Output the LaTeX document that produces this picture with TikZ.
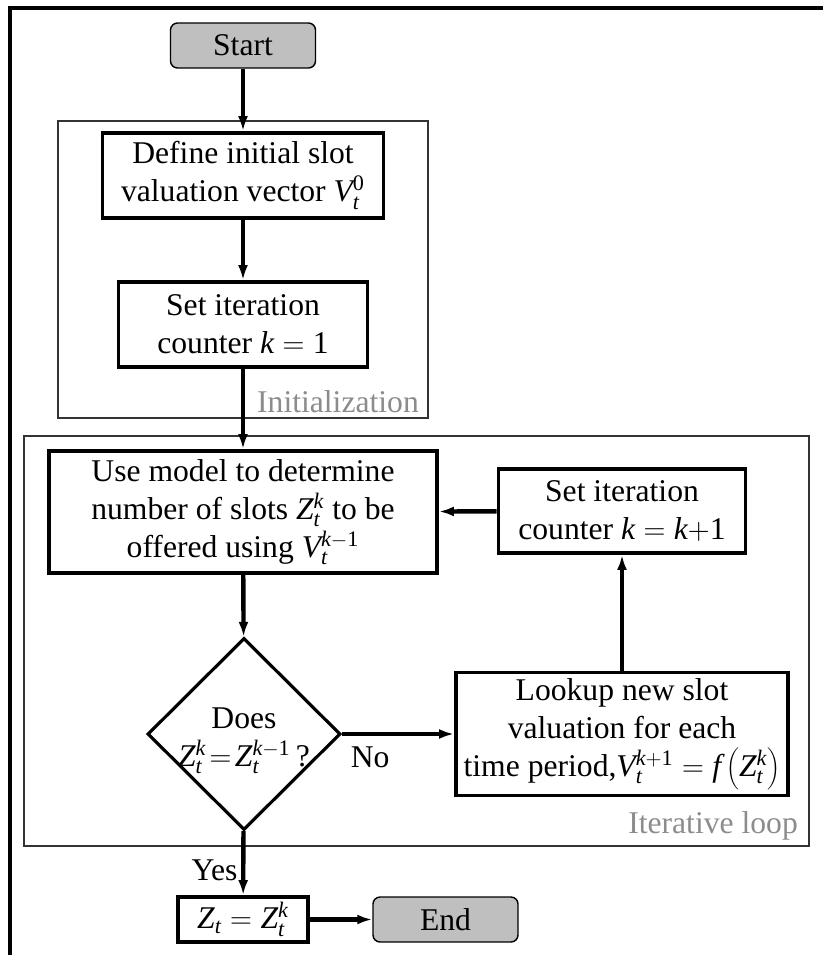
\documentclass[tikz,border=0pt]{standalone}
\usepackage{mathspec}
\setmainfont{Liberation Serif}
\setmathsfont(Digits,Latin){Liberation Serif}
\usetikzlibrary{shapes.geometric,arrows.meta}

\begin{document}
\begin{tikzpicture}[font=\fontsize{18}{21.6}\selectfont]
\tikzset{terminal style/.style={shape=rectangle,rounded corners=4pt,draw=black,fill=black!25,line width=0.8pt,minimum width=2.9cm,minimum height=0.9cm,inner sep=0pt},
         process style/.style={shape=rectangle,draw=black,line width=2.2pt,align=center,inner sep=2pt},
         decision style/.style={shape=diamond,draw=black,line width=1.8pt,minimum width=3.86cm,minimum height=3.84cm,inner sep=0pt},
         frame style/.style={draw=black!80,line width=0.7pt},
         note style/.style={text=black!45},
         flow style/.style={line width=2.5pt,-{Latex[length=0.3cm,width=0.2cm]}}}

\useasboundingbox (0, 0) rectangle (16.44, -19.1);
\draw[line width=2pt] (0.2, -19.1) -- (0.2, -0.16) -- (16.6, -0.16);

% frames
\draw[frame style] (1.16, -2.42) rectangle (8.56, -8.36);
\draw[frame style] (0.48, -8.72) rectangle (16.18, -16.92);
\node[note style, anchor=base east] at (8.5, -8.24)     (init)  {Initialization};
\node[note style, anchor=base east] at (16.08, -16.66)  (loop)  {Iterative loop};

\node[terminal style] at (4.86, -0.91)    (1)     {Start};
\node[process style, minimum width=5.62cm, minimum height=1.7cm] at (4.86, -3.51)   (2)
      {Define initial slot\\ valuation vector $V_t^0$};
\node[process style, minimum width=4.98cm, minimum height=1.7cm] at (4.86, -6.49)   (3)
      {Set iteration\\ counter $k=1$};
\node[process style, minimum width=7.76cm, minimum height=2.44cm] at (4.86, -10.24) (4)
      {Use model to determine\\ number of slots $Z_t^k$ to be\\ offered using $V_t^{k-1}$};
\node[decision style, label={[align=center, yshift=-0.14cm]center:{Does\\ $Z_t^k\mkern2mu{=}\mkern2mu Z_t^{k-1}$\,?}}] at (4.88, -14.68) (5) {};
\node[process style, minimum width=6.64cm, minimum height=2.46cm] at (12.44, -14.68) (6)
      {Lookup new slot\\ valuation for each\\ time period,$V_t^{k+1}=f\left(Z_t^k\right)$};
\node[process style, minimum width=4.94cm, minimum height=1.68cm] at (12.44, -10.22) (7)
      {Set iteration\\ counter $k=k{+}1$};
\node[process style, minimum width=2.6cm, minimum height=0.9cm, inner sep=0pt] at (4.86, -18.39) (8)
      {$Z_t=Z_t^k$};
\node[terminal style] at (8.91, -18.39)   (9)     {End};

\draw[flow style]
            (1)     edge    (2)
            (2)     edge    (3)
            (3)     edge    (4)
            (4)     edge    (5)
            (5)     edge    node[pos=0.25, below, yshift=-0.1cm] {No} (6)
            (6)     edge    (7)
            (7)     edge    (4)
            (5)     edge    node[pos=0.62, left, inner sep=2pt] {Yes} (8)
            (8)     edge    (9)
;
\end{tikzpicture}
\end{document}
